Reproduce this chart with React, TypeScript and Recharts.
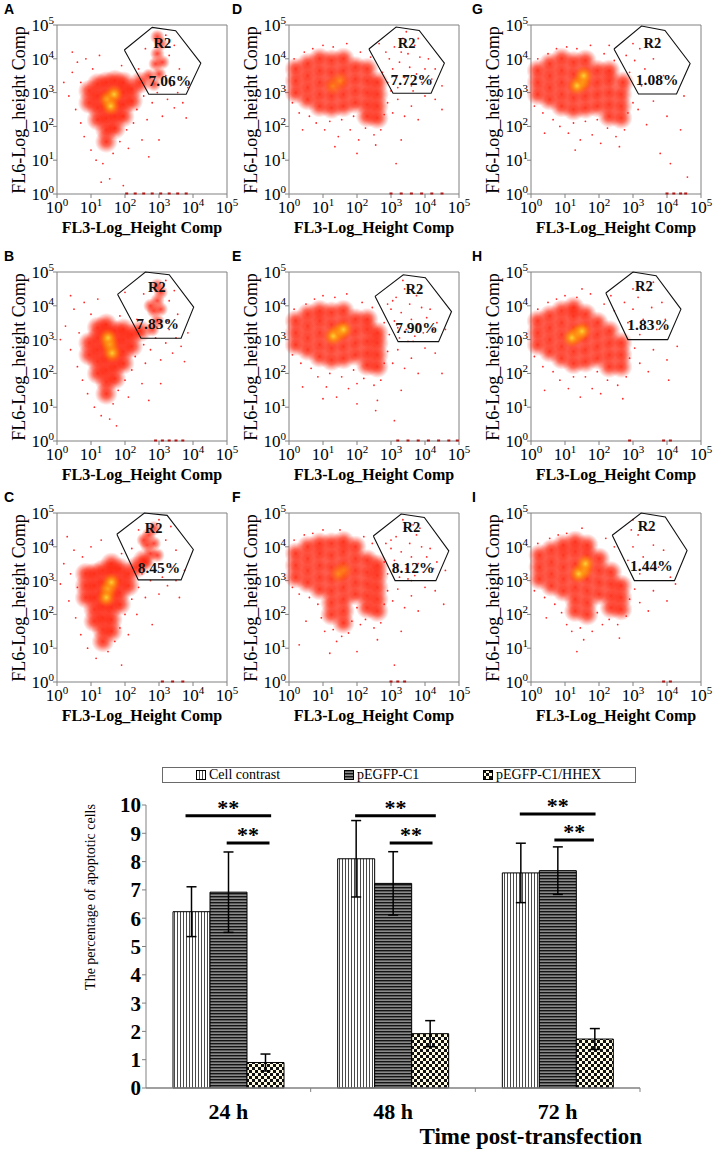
import React from 'react';
import {
  ScatterChart,
  Scatter,
  XAxis,
  YAxis,
  ReferenceLine,
  ReferenceDot,
  ComposedChart,
  Bar,
  ErrorBar,
} from 'recharts';

type Pt = [number, number];

const serif = '"Liberation Serif", "Times New Roman", serif';

// ---------- flow cytometry panels (values in log decades, 10^0 .. 10^5) ----------
const decades = [0, 1, 2, 3, 4, 5];

const aBody: Pt[] = [[0.95, 2.7], [0.95, 3.05], [1.2, 2.2], [1.2, 2.55], [1.2, 2.9], [1.2, 3.25], [1.45, 1.55], [1.45, 1.9], [1.45, 2.25], [1.45, 2.6], [1.45, 2.95], [1.45, 3.3], [1.7, 1.95], [1.7, 2.3], [1.7, 2.65], [1.7, 3.0], [1.7, 3.35], [1.95, 2.3], [1.95, 2.65], [1.95, 3.0], [1.95, 3.3], [2.2, 2.75], [2.2, 3.1], [2.45, 3.3]];
const aCore: Pt[] = [[1.5, 2.8], [1.68, 2.95], [1.58, 2.6]];
const aGate: Pt[] = [[2.85, 3.25], [3.0, 3.55], [2.9, 3.85], [3.1, 3.9], [2.95, 4.15], [3.05, 4.45], [2.95, 4.65], [2.7, 3.5]];
const aSparse: Pt[] = [[0.2, 3.3], [0.35, 2.9], [0.45, 3.6], [0.55, 2.5], [0.6, 3.9], [0.7, 2.1], [0.7, 3.3], [0.8, 1.7], [0.85, 4.0], [1.0, 1.3], [1.05, 3.7], [1.15, 1.0], [1.25, 4.1], [1.35, 0.9], [1.55, 0.45], [1.65, 1.2], [1.85, 1.55], [1.9, 3.8], [2.05, 1.9], [2.1, 1.35], [2.25, 2.1], [2.35, 2.5], [2.4, 3.7], [2.5, 1.6], [2.55, 2.9], [2.65, 2.2], [2.8, 2.7], [2.95, 3.0], [3.1, 2.3], [3.25, 2.8], [3.35, 3.2], [3.45, 2.55], [3.55, 3.0], [3.7, 2.7], [3.8, 2.25], [3.85, 3.15], [2.6, 4.3], [3.3, 4.1], [3.45, 4.4], [3.6, 3.7], [0.45, 4.2], [1.95, 0.25], [2.7, 1.1], [3.0, 1.6], [1.3, 0.35], [3.2, 3.5], [3.2, 4.7]];
const aAxis: Pt[] = [[2.05, 0], [2.3, 0], [2.55, 0], [2.8, 0], [3.05, 0], [3.3, 0], [3.55, 0], [3.8, 0]];
const aGatePoly: Pt[] = [[1.98, 4.26], [2.8, 4.93], [3.49, 4.83], [4.23, 3.87], [3.8, 2.95], [2.7, 2.95], [1.98, 4.26]];

const bBody: Pt[] = [[0.95, 2.55], [0.95, 2.9], [1.2, 2.0], [1.2, 2.35], [1.2, 2.7], [1.2, 3.05], [1.2, 3.35], [1.45, 1.4], [1.45, 1.75], [1.45, 2.1], [1.45, 2.45], [1.45, 2.8], [1.45, 3.15], [1.45, 3.45], [1.7, 1.85], [1.7, 2.2], [1.7, 2.55], [1.7, 2.9], [1.7, 3.25], [1.95, 2.3], [1.95, 2.65], [1.95, 3.0], [1.95, 3.3], [2.2, 2.8], [2.2, 3.15], [2.45, 3.25]];
const bCore: Pt[] = [[1.55, 2.85], [1.62, 2.6], [1.5, 3.05]];
const bGate: Pt[] = [[2.8, 3.3], [2.95, 3.55], [2.85, 3.85], [3.05, 3.9], [2.95, 4.15], [3.05, 4.4], [2.95, 4.6], [2.75, 4.0]];
const bSparse: Pt[] = [[0.1, 3.0], [0.25, 3.4], [0.4, 2.7], [0.5, 3.9], [0.6, 2.2], [0.65, 3.2], [0.75, 1.8], [0.8, 4.1], [0.9, 1.4], [1.0, 3.75], [1.1, 1.0], [1.2, 4.2], [1.3, 0.75], [1.55, 0.65], [1.65, 1.1], [1.8, 1.5], [1.85, 3.7], [2.0, 1.8], [2.1, 1.3], [2.2, 2.1], [2.3, 2.5], [2.35, 3.6], [2.5, 1.7], [2.55, 2.85], [2.6, 2.3], [2.75, 2.7], [2.9, 3.05], [3.05, 2.4], [3.2, 2.9], [3.3, 3.3], [3.4, 2.6], [3.5, 3.05], [3.65, 2.8], [3.75, 2.35], [3.85, 3.2], [2.55, 4.35], [3.3, 4.15], [3.45, 4.45], [3.55, 3.75], [0.4, 4.3], [1.75, 0.45], [2.7, 1.2], [3.05, 1.7], [3.25, 3.55], [3.2, 4.75], [2.0, 4.4]];
const bAxis: Pt[] = [[2.9, 0], [3.1, 0], [3.3, 0], [3.5, 0], [3.7, 0]];
const bGatePoly: Pt[] = [[1.78, 4.34], [2.6, 5.0], [3.3, 4.92], [4.02, 3.96], [3.65, 3.04], [2.47, 3.04], [1.78, 4.34]];

const cBody: Pt[] = [[0.85, 2.5], [0.85, 2.85], [0.85, 3.2], [1.1, 1.8], [1.1, 2.15], [1.1, 2.5], [1.1, 2.85], [1.1, 3.2], [1.35, 1.2], [1.35, 1.55], [1.35, 1.9], [1.35, 2.25], [1.35, 2.6], [1.35, 2.95], [1.35, 3.3], [1.6, 1.5], [1.6, 1.85], [1.6, 2.2], [1.6, 2.55], [1.6, 2.9], [1.6, 3.25], [1.6, 3.5], [1.85, 2.3], [1.85, 2.65], [1.85, 3.0], [1.85, 3.35], [2.1, 2.85], [2.1, 3.2], [2.35, 3.4], [2.55, 3.6]];
const cCore: Pt[] = [[1.5, 2.75], [1.6, 2.95], [1.45, 2.5]];
const cGate: Pt[] = [[2.6, 3.55], [2.75, 3.8], [2.65, 4.05], [2.85, 4.1], [2.7, 4.35], [2.85, 4.55], [2.55, 4.2], [2.95, 3.75]];
const cSparse: Pt[] = [[0.1, 2.9], [0.2, 3.5], [0.35, 2.4], [0.4, 3.2], [0.5, 3.9], [0.55, 1.9], [0.6, 2.8], [0.7, 1.4], [0.75, 3.7], [0.9, 1.0], [1.0, 4.0], [1.15, 0.7], [1.3, 4.2], [1.5, 0.9], [1.7, 1.2], [1.85, 1.6], [1.9, 3.8], [2.0, 2.0], [2.1, 1.4], [2.2, 2.45], [2.35, 2.0], [2.4, 2.8], [2.5, 3.2], [2.6, 2.5], [2.75, 3.0], [2.9, 3.3], [3.0, 2.6], [3.1, 3.1], [3.25, 2.85], [3.35, 3.4], [3.5, 3.0], [3.6, 2.5], [3.75, 3.3], [3.2, 4.2], [3.35, 4.6], [3.5, 3.9], [2.4, 4.5], [0.3, 4.3], [1.9, 0.5], [2.8, 1.7], [3.0, 4.8], [2.2, 3.95]];
const cAxis: Pt[] = [[3.1, 0], [3.4, 0], [3.7, 0]];
const cGatePoly: Pt[] = [[1.76, 4.37], [2.57, 5.0], [3.24, 4.93], [4.01, 3.92], [3.65, 3.02], [2.39, 3.02], [1.76, 4.37]];

const dBody: Pt[] = [[0.2, 3.0], [0.2, 3.35], [0.2, 3.7], [0.55, 2.8], [0.55, 3.15], [0.55, 3.5], [0.55, 3.85], [0.9, 2.6], [0.9, 2.95], [0.9, 3.3], [0.9, 3.65], [0.9, 4.0], [1.25, 2.55], [1.25, 2.9], [1.25, 3.25], [1.25, 3.6], [1.25, 3.95], [1.6, 2.6], [1.6, 2.95], [1.6, 3.3], [1.6, 3.65], [1.6, 4.0], [1.95, 2.7], [1.95, 3.05], [1.95, 3.4], [1.95, 3.75], [2.3, 2.3], [2.3, 2.65], [2.3, 3.0], [2.3, 3.35], [2.3, 3.7], [2.6, 2.25], [2.6, 2.6], [2.6, 2.95], [2.6, 3.3]];
const dCore: Pt[] = [[1.3, 3.2], [1.5, 3.35]];
const dGate: Pt[] = [[2.75, 3.6], [2.9, 3.3], [2.95, 4.0], [3.05, 3.7], [3.1, 4.35], [3.2, 3.15], [3.25, 3.9], [3.35, 4.6], [3.4, 3.45], [3.5, 4.15], [3.55, 3.75], [3.6, 3.2], [3.7, 4.4], [3.75, 3.55], [3.85, 4.05], [3.9, 3.3], [4.0, 3.7], [4.1, 4.0], [4.2, 3.4], [3.0, 3.05], [3.3, 4.2], [3.45, 4.8], [3.65, 3.05], [2.85, 4.2], [3.15, 3.45], [3.8, 4.6], [4.3, 3.7]];
const dSparse: Pt[] = [[0.1, 2.7], [0.15, 4.0], [0.3, 2.4], [0.45, 4.2], [0.6, 2.3], [0.7, 4.3], [0.8, 2.1], [1.0, 4.4], [1.05, 1.9], [1.2, 2.15], [1.3, 4.35], [1.45, 1.7], [1.55, 2.2], [1.7, 4.45], [1.8, 1.9], [1.9, 2.3], [2.05, 1.6], [2.1, 4.2], [2.25, 1.95], [2.4, 4.05], [2.5, 1.75], [2.7, 1.9], [2.8, 2.35], [2.9, 2.7], [3.05, 2.4], [3.2, 2.8], [3.4, 2.3], [3.6, 2.6], [3.8, 2.2], [4.0, 2.9], [4.3, 2.8], [4.5, 2.5], [1.35, 1.4], [2.55, 1.45], [3.3, 1.6], [0.4, 1.9], [2.0, 1.2], [3.15, 0.9], [2.65, 4.45], [4.5, 3.2]];
const dAxis: Pt[] = [[3.0, 0], [3.3, 0], [3.6, 0], [3.9, 0], [4.2, 0], [4.5, 0]];
const dGatePoly: Pt[] = [[2.35, 4.29], [3.15, 4.94], [3.83, 4.84], [4.57, 3.87], [4.18, 2.98], [3.06, 2.98], [2.35, 4.29]];

const eBody: Pt[] = [[0.2, 2.85], [0.2, 3.2], [0.2, 3.55], [0.55, 2.7], [0.55, 3.05], [0.55, 3.4], [0.55, 3.75], [0.9, 2.5], [0.9, 2.85], [0.9, 3.2], [0.9, 3.55], [0.9, 3.85], [1.25, 2.4], [1.25, 2.75], [1.25, 3.1], [1.25, 3.45], [1.25, 3.8], [1.6, 2.45], [1.6, 2.8], [1.6, 3.15], [1.6, 3.5], [1.6, 3.85], [1.95, 2.55], [1.95, 2.9], [1.95, 3.25], [1.95, 3.6], [2.3, 2.25], [2.3, 2.6], [2.3, 2.95], [2.3, 3.3], [2.3, 3.6], [2.6, 2.2], [2.6, 2.55], [2.6, 2.9], [2.6, 3.2]];
const eCore: Pt[] = [[1.45, 3.2], [1.3, 3.1], [1.6, 3.3]];
const eGate: Pt[] = [[2.8, 3.5], [2.95, 3.15], [3.0, 3.9], [3.1, 3.55], [3.15, 4.25], [3.25, 3.05], [3.3, 3.8], [3.4, 4.5], [3.45, 3.3], [3.55, 4.05], [3.6, 3.6], [3.7, 3.1], [3.75, 4.3], [3.8, 3.45], [3.9, 3.95], [3.95, 3.2], [4.05, 3.65], [4.15, 3.9], [4.25, 3.3], [3.05, 4.15], [3.35, 4.75], [3.65, 2.95], [2.9, 4.05], [3.2, 3.35], [3.85, 4.5], [4.35, 3.5], [3.5, 2.95]];
const eSparse: Pt[] = [[0.1, 2.55], [0.15, 3.9], [0.35, 2.3], [0.5, 4.05], [0.65, 2.15], [0.75, 4.2], [0.85, 1.9], [1.0, 4.3], [1.1, 1.6], [1.2, 2.0], [1.35, 4.25], [1.4, 1.3], [1.55, 1.9], [1.7, 4.35], [1.75, 1.55], [1.9, 2.1], [2.0, 1.7], [2.15, 4.1], [2.2, 1.85], [2.45, 3.95], [2.5, 1.65], [2.7, 1.8], [2.8, 2.3], [2.9, 2.65], [3.05, 2.3], [3.2, 2.7], [3.4, 2.15], [3.6, 2.45], [3.8, 2.0], [4.0, 2.75], [4.3, 2.6], [4.5, 2.0], [1.0, 1.25], [2.6, 1.2], [3.3, 1.5], [0.4, 1.6], [2.0, 1.1], [3.1, 0.6], [2.55, 0.9], [4.6, 3.3]];
const eAxis: Pt[] = [[3.2, 0], [3.5, 0], [3.8, 0], [4.1, 0], [4.4, 0], [4.7, 0], [4.95, 0]];
const eGatePoly: Pt[] = [[2.53, 4.28], [3.36, 4.92], [4.01, 4.83], [4.78, 3.83], [4.4, 2.94], [3.21, 2.94], [2.53, 4.28]];

const fBody: Pt[] = [[0.2, 3.1], [0.2, 3.45], [0.2, 3.8], [0.55, 2.95], [0.55, 3.3], [0.55, 3.65], [0.55, 4.0], [0.9, 2.75], [0.9, 3.1], [0.9, 3.45], [0.9, 3.8], [0.9, 4.1], [1.25, 2.0], [1.25, 2.35], [1.25, 2.7], [1.25, 3.05], [1.25, 3.4], [1.25, 3.75], [1.25, 4.1], [1.6, 1.75], [1.6, 2.1], [1.6, 2.45], [1.6, 2.8], [1.6, 3.15], [1.6, 3.5], [1.6, 3.85], [1.6, 4.15], [1.95, 2.6], [1.95, 2.95], [1.95, 3.3], [1.95, 3.65], [1.95, 4.0], [2.3, 2.2], [2.3, 2.55], [2.3, 2.9], [2.3, 3.25], [2.3, 3.6], [2.6, 2.1], [2.6, 2.45], [2.6, 2.8], [2.6, 3.15], [2.6, 3.45]];
const fCore: Pt[] = [[1.6, 3.3], [1.45, 3.2]];
const fGate: Pt[] = [[2.8, 3.55], [2.9, 3.2], [3.0, 3.95], [3.1, 3.6], [3.15, 4.3], [3.25, 3.1], [3.3, 3.85], [3.4, 4.55], [3.45, 3.35], [3.55, 4.1], [3.6, 3.7], [3.7, 3.15], [3.75, 4.35], [3.8, 3.5], [3.9, 4.0], [3.95, 3.25], [4.05, 3.7], [4.15, 3.95], [4.25, 3.35], [3.0, 4.2], [3.35, 4.8], [3.6, 3.0], [2.85, 4.1], [3.2, 3.4], [3.85, 4.55], [4.35, 3.55], [3.5, 3.05], [3.65, 4.65]];
const fSparse: Pt[] = [[0.1, 2.8], [0.15, 4.2], [0.3, 2.6], [0.45, 4.35], [0.6, 2.5], [0.7, 4.4], [0.85, 2.3], [1.0, 4.5], [0.95, 1.9], [1.05, 1.5], [1.3, 1.55], [1.4, 1.2], [1.55, 1.35], [1.75, 1.45], [1.85, 1.8], [2.0, 2.2], [2.1, 1.7], [2.2, 4.3], [2.25, 1.85], [2.45, 4.1], [2.5, 1.6], [2.7, 1.75], [2.8, 2.3], [2.9, 2.7], [3.05, 2.4], [3.2, 2.75], [3.4, 2.2], [3.6, 2.55], [3.8, 2.1], [4.0, 2.8], [4.3, 2.7], [4.55, 2.3], [1.5, 4.5], [2.6, 1.25], [3.3, 1.5], [0.5, 1.8], [2.0, 0.9], [3.1, 0.5], [1.2, 0.85], [4.6, 3.3], [0.3, 1.1]];
const fAxis: Pt[] = [[3.0, 0], [3.2, 0], [3.4, 0]];
const fGatePoly: Pt[] = [[2.48, 4.32], [3.3, 4.97], [3.98, 4.87], [4.7, 3.88], [4.32, 3.0], [3.12, 3.0], [2.48, 4.32]];

const gBody: Pt[] = [[0.2, 2.95], [0.2, 3.3], [0.2, 3.65], [0.55, 2.8], [0.55, 3.15], [0.55, 3.5], [0.55, 3.85], [0.9, 2.6], [0.9, 2.95], [0.9, 3.3], [0.9, 3.65], [0.9, 4.0], [1.25, 2.5], [1.25, 2.85], [1.25, 3.2], [1.25, 3.55], [1.25, 3.9], [1.6, 2.55], [1.6, 2.9], [1.6, 3.25], [1.6, 3.6], [1.6, 3.95], [1.95, 2.6], [1.95, 2.95], [1.95, 3.3], [1.95, 3.65], [2.3, 2.3], [2.3, 2.65], [2.3, 3.0], [2.3, 3.35], [2.3, 3.65], [2.65, 2.25], [2.65, 2.6], [2.65, 2.95], [2.7, 3.3]];
const gCore: Pt[] = [[1.5, 3.3], [1.35, 3.2], [1.55, 3.5]];
const gGate: Pt[] = [[2.9, 3.6], [3.05, 3.95], [3.2, 4.3], [3.35, 3.7], [3.5, 4.5], [3.6, 4.0], [3.75, 4.6], [3.9, 3.5], [3.25, 3.2], [3.0, 4.45], [3.7, 3.3], [2.8, 4.1]];
const gSparse: Pt[] = [[0.1, 2.6], [0.2, 4.0], [0.35, 2.4], [0.5, 4.15], [0.65, 2.2], [0.75, 4.3], [0.85, 2.0], [1.05, 4.35], [1.1, 1.8], [1.25, 2.1], [1.35, 4.3], [1.45, 1.6], [1.6, 2.15], [1.75, 4.4], [1.8, 1.75], [1.95, 2.2], [2.05, 1.5], [2.15, 4.15], [2.25, 1.95], [2.45, 3.95], [2.5, 1.7], [2.75, 1.9], [2.85, 2.4], [3.0, 2.7], [3.15, 2.5], [3.4, 2.05], [3.6, 2.75], [4.0, 2.3], [4.4, 1.9], [4.5, 2.9], [1.3, 1.3], [2.6, 1.4], [0.4, 1.8], [3.8, 1.2], [4.1, 0.9], [2.3, 4.4], [4.6, 0.5]];
const gAxis: Pt[] = [[4.0, 0], [4.2, 0], [4.4, 0], [4.55, 0]];
const gGatePoly: Pt[] = [[2.44, 4.29], [3.25, 4.97], [3.94, 4.84], [4.68, 3.86], [4.28, 2.96], [3.16, 2.96], [2.44, 4.29]];

const hBody: Pt[] = [[0.2, 2.85], [0.2, 3.2], [0.2, 3.55], [0.55, 2.65], [0.55, 3.0], [0.55, 3.35], [0.55, 3.7], [0.9, 2.45], [0.9, 2.8], [0.9, 3.15], [0.9, 3.5], [0.9, 3.85], [1.25, 2.3], [1.25, 2.65], [1.25, 3.0], [1.25, 3.35], [1.25, 3.7], [1.25, 3.95], [1.6, 2.35], [1.6, 2.7], [1.6, 3.05], [1.6, 3.4], [1.6, 3.75], [1.95, 2.45], [1.95, 2.8], [1.95, 3.15], [1.95, 3.5], [2.3, 2.2], [2.3, 2.55], [2.3, 2.9], [2.3, 3.25], [2.65, 2.2], [2.65, 2.55], [2.65, 2.9]];
const hCore: Pt[] = [[1.35, 3.15], [1.2, 3.05], [1.5, 3.25]];
const hGate: Pt[] = [[2.85, 3.5], [3.0, 3.9], [3.15, 4.25], [3.3, 3.6], [3.45, 4.45], [3.55, 3.95], [3.7, 3.3], [3.85, 4.1], [3.2, 3.15], [3.0, 4.5], [2.75, 4.1], [3.6, 4.7], [3.95, 3.6]];
const hSparse: Pt[] = [[0.1, 2.5], [0.2, 3.9], [0.35, 2.2], [0.5, 4.1], [0.65, 2.05], [0.75, 4.2], [0.85, 1.8], [1.0, 4.3], [1.1, 1.55], [1.25, 1.9], [1.35, 4.25], [1.45, 1.3], [1.6, 1.9], [1.75, 4.35], [1.8, 1.55], [1.95, 2.05], [2.05, 1.4], [2.15, 4.05], [2.25, 1.8], [2.45, 3.85], [2.55, 1.65], [2.8, 1.9], [2.9, 2.45], [3.05, 2.75], [3.2, 2.3], [3.45, 2.05], [3.6, 2.7], [4.0, 2.4], [4.3, 2.8], [4.05, 1.8], [0.4, 1.5], [2.7, 1.25], [1.5, 4.5], [2.35, 4.3]];
const hAxis: Pt[] = [[2.9, 0], [3.9, 0], [4.1, 0]];
const hGatePoly: Pt[] = [[2.2, 4.38], [3.0, 5.0], [3.68, 4.89], [4.41, 3.9], [4.02, 3.0], [2.85, 3.0], [2.2, 4.38]];

const iBody: Pt[] = [[0.25, 3.05], [0.25, 3.4], [0.25, 3.75], [0.6, 2.85], [0.6, 3.2], [0.6, 3.55], [0.6, 3.9], [0.95, 2.7], [0.95, 3.05], [0.95, 3.4], [0.95, 3.75], [0.95, 4.05], [1.3, 2.1], [1.3, 2.45], [1.3, 2.8], [1.3, 3.15], [1.3, 3.5], [1.3, 3.85], [1.3, 4.15], [1.65, 2.0], [1.65, 2.35], [1.65, 2.7], [1.65, 3.05], [1.65, 3.4], [1.65, 3.75], [1.65, 4.05], [2.0, 2.6], [2.0, 2.95], [2.0, 3.3], [2.0, 3.65], [2.35, 2.2], [2.35, 2.55], [2.35, 2.9], [2.35, 3.25], [2.65, 2.15], [2.65, 2.5], [2.65, 2.85]];
const iCore: Pt[] = [[1.55, 3.3], [1.4, 3.2], [1.6, 3.5]];
const iGate: Pt[] = [[2.85, 3.6], [3.0, 4.0], [3.15, 4.35], [3.3, 3.7], [3.45, 4.5], [3.6, 4.05], [3.75, 3.4], [3.2, 3.2], [2.95, 4.5], [3.9, 3.9]];
const iSparse: Pt[] = [[0.1, 2.7], [0.2, 4.1], [0.4, 2.5], [0.55, 4.25], [0.7, 2.3], [0.8, 4.35], [0.9, 2.05], [1.05, 4.4], [1.05, 1.7], [1.2, 1.5], [1.45, 1.6], [1.55, 1.25], [1.8, 1.5], [1.95, 2.05], [2.1, 1.7], [2.2, 4.25], [2.3, 1.85], [2.45, 4.0], [2.55, 1.7], [2.8, 1.95], [2.9, 2.45], [3.05, 2.75], [3.2, 2.35], [3.45, 2.1], [3.6, 2.7], [4.0, 2.4], [4.25, 2.9], [0.45, 1.9], [2.6, 1.3], [1.5, 4.55], [1.35, 0.9], [3.0, 4.8], [4.1, 3.1]];
const iAxis: Pt[] = [[3.9, 0], [4.1, 0]];
const iGatePoly: Pt[] = [[2.39, 4.34], [3.24, 5.0], [3.95, 4.88], [4.59, 3.89], [4.22, 3.0], [3.04, 3.0], [2.39, 4.34]];

// gate label anchors: [R2 position, percentage position]
const gateLabelPos: Record<string, Pt[]> = {
  A: [[3.1, 4.47], [3.32, 3.37]],
  B: [[2.94, 4.55], [2.96, 3.47]],
  C: [[2.84, 4.56], [3.0, 3.4]],
  D: [[3.46, 4.48], [3.61, 3.38]],
  E: [[3.69, 4.49], [3.75, 3.37]],
  F: [[3.6, 4.58], [3.65, 3.4]],
  G: [[3.57, 4.48], [3.71, 3.38]],
  H: [[3.32, 4.6], [3.46, 3.44]],
  I: [[3.4, 4.63], [3.54, 3.45]],
};
const gatePercent: Record<string, string> = {
  A: '7.06%', B: '7.83%', C: '8.45%',
  D: '7.72%', E: '7.90%', F: '8.12%',
  G: '1.08%', H: '1.83%', I: '1.44%',
};

// ---------- bar chart ----------
const timePoints = ['24 h', '48 h', '72 h'];
const seriesNames = ['Cell contrast', 'pEGFP-C1', 'pEGFP-C1/HHEX'];
const cellContrast = [6.23, 8.1, 7.6];
const cellContrastErr = [0.88, 1.35, 1.05];
const pegfp = [6.92, 7.23, 7.68];
const pegfpErr = [1.42, 1.12, 0.84];
const hhex = [0.9, 1.92, 1.73];
const hhexErr = [0.3, 0.46, 0.37];

// significance brackets on a 0..3 axis (one unit per time point)
const sigLines = [
  { x1: 0.24, x2: 0.76, y: 9.62 },
  { x1: 0.49, x2: 0.75, y: 8.66 },
  { x1: 1.27, x2: 1.76, y: 9.62 },
  { x1: 1.48, x2: 1.74, y: 8.66 },
  { x1: 2.27, x2: 2.73, y: 9.68 },
  { x1: 2.48, x2: 2.72, y: 8.76 },
];
const groupBounds = [1, 2, 3];

const barData = timePoints.map((t, i) => ({
  pos: i + 0.5,
  time: t,
  cc: cellContrast[i],
  ccErr: cellContrastErr[i],
  pe: pegfp[i],
  peErr: pegfpErr[i],
  hx: hhex[i],
  hxErr: hhexErr[i],
}));

const pts = (a: Pt[]) => a.map(([x, y]) => ({ x, y }));

const glow = (id: string, r: number) => (p: any) => (
  <circle cx={p.cx} cy={p.cy} r={r} fill={`url(#${id})`} />
);
const Dot = (p: any) => <circle cx={p.cx} cy={p.cy} r={0.9} fill="#ff2a2a" />;
const AxisDot = (p: any) => <rect x={p.cx - 1.5} y={p.cy - 1.5} width={3} height={2} fill="#b01818" />;
const Nothing = () => <g />;
const GateText = (p: any) => (
  <text
    x={p.cx}
    y={p.cy}
    textAnchor="middle"
    dominantBaseline="central"
    fontFamily={serif}
    fontWeight="bold"
    fontSize={p.payload.big ? 15.5 : 14.5}
    fill="#111"
  >
    {p.payload.text}
  </text>
);

const XTick = (p: any) => (
  <text x={p.x} y={p.y + 13} textAnchor="middle" fontFamily={serif} fontSize={17} fill="#000">
    10<tspan dy={-7} fontSize={11}>{p.payload.value}</tspan>
  </text>
);
const YTick = (p: any) => (
  <text x={p.x + 3} y={p.y + 6} textAnchor="end" fontFamily={serif} fontSize={17} fill="#000">
    10<tspan dy={-7} fontSize={11}>{p.payload.value}</tspan>
  </text>
);

const panels = [
  { letter: 'A', col: 0, row: 0, body: aBody, core: aCore, gate: aGate, sparse: aSparse, axis: aAxis, poly: aGatePoly, hot: true, streak: true },
  { letter: 'B', col: 0, row: 1, body: bBody, core: bCore, gate: bGate, sparse: bSparse, axis: bAxis, poly: bGatePoly, hot: true, streak: true },
  { letter: 'C', col: 0, row: 2, body: cBody, core: cCore, gate: cGate, sparse: cSparse, axis: cAxis, poly: cGatePoly, hot: true, streak: true },
  { letter: 'D', col: 1, row: 0, body: dBody, core: dCore, gate: dGate, sparse: dSparse, axis: dAxis, poly: dGatePoly, hot: false, streak: false },
  { letter: 'E', col: 1, row: 1, body: eBody, core: eCore, gate: eGate, sparse: eSparse, axis: eAxis, poly: eGatePoly, hot: true, streak: false },
  { letter: 'F', col: 1, row: 2, body: fBody, core: fCore, gate: fGate, sparse: fSparse, axis: fAxis, poly: fGatePoly, hot: false, streak: false },
  { letter: 'G', col: 2, row: 0, body: gBody, core: gCore, gate: gGate, sparse: gSparse, axis: gAxis, poly: gGatePoly, hot: true, streak: false },
  { letter: 'H', col: 2, row: 1, body: hBody, core: hCore, gate: hGate, sparse: hSparse, axis: hAxis, poly: hGatePoly, hot: true, streak: false },
  { letter: 'I', col: 2, row: 2, body: iBody, core: iCore, gate: iGate, sparse: iSparse, axis: iAxis, poly: iGatePoly, hot: true, streak: false },
];

const colLeft = [57, 289, 531];
const letterLeft = [4, 232, 472];
const rowTop = [25, 272, 513];
const PW = 170;
const PH = 169;
const RM = 12;

function FlowPanel({ p }: { p: any }) {
  const left = colLeft[p.col];
  const top = rowTop[p.row];
  const [r2, pc] = gateLabelPos[p.letter];
  const labels = [
    { x: r2[0], y: r2[1], text: 'R2', big: false },
    { x: pc[0], y: pc[1], text: gatePercent[p.letter], big: true },
  ];
  return (
    <>
      <div
        style={{
          position: 'absolute',
          left: letterLeft[p.col],
          top: top - 24,
          font: 'bold 14px "Liberation Sans", Arial, sans-serif',
        }}
      >
        {p.letter}
      </div>
      <div style={{ position: 'absolute', left: left - 55, top: top - 25 }}>
        <ScatterChart width={55 + PW + RM} height={25 + PH + 45} margin={{ top: 25, right: RM, bottom: 0, left: 0 }}>
          <XAxis
            type="number"
            dataKey="x"
            domain={[0, 5]}
            ticks={decades}
            interval={0}
            tick={XTick}
            tickSize={4}
            height={45}
            stroke="#808080"
          />
          <YAxis
            type="number"
            dataKey="y"
            domain={[0, 5]}
            ticks={decades}
            interval={0}
            tick={YTick}
            tickSize={4}
            width={55}
            stroke="#808080"
          />
          <ReferenceLine y={5} stroke="#808080" />
          <ReferenceLine x={5} stroke="#808080" />
          <Scatter data={pts(p.sparse)} shape={Dot} isAnimationActive={false} />
          <Scatter data={pts(p.body)} shape={glow('glowRed', 11.5)} isAnimationActive={false} />
          <Scatter
            data={pts(p.core)}
            shape={glow(p.hot ? 'coreHot' : 'coreWarm', 10)}
            isAnimationActive={false}
          />
          <Scatter
            data={pts(p.gate)}
            shape={p.streak ? glow('glowSoft', 7.5) : Dot}
            isAnimationActive={false}
          />
          <Scatter data={pts(p.axis)} shape={AxisDot} isAnimationActive={false} />
          <Scatter
            data={pts(p.poly)}
            line={{ stroke: '#111', strokeWidth: 1.1 }}
            lineType="joint"
            shape={Nothing}
            isAnimationActive={false}
          />
          <Scatter data={labels} shape={GateText} isAnimationActive={false} />
        </ScatterChart>
      </div>
      <div
        style={{
          position: 'absolute',
          left: left - 38,
          top: top + PH / 2,
          transform: 'translate(-50%, -50%) rotate(-90deg)',
          whiteSpace: 'nowrap',
          font: `18px ${serif}`,
        }}
      >
        FL6-Log_height Comp
      </div>
      <div
        style={{
          position: 'absolute',
          left: left + PW / 2,
          top: top + PH + 34,
          transform: 'translate(-50%, -50%)',
          whiteSpace: 'nowrap',
          font: `bold 16px ${serif}`,
        }}
      >
        FL3-Log_Height Comp
      </div>
    </>
  );
}

const CatTick = (p: any) => (
  <text x={p.x} y={p.y + 31} textAnchor="middle" fontFamily={serif} fontWeight="bold" fontSize={22} fill="#000">
    {timePoints[Math.floor(p.payload.value)]}
  </text>
);

const Stars = (p: any) => (
  <text x={p.cx} y={p.cy - 1} textAnchor="middle" fontFamily={serif} fontWeight="bold" fontSize={22} fill="#000">
    **
  </text>
);

const patternIds = ['vstripe', 'hstripe', 'checker'];

function BarFigure() {
  return (
    <>
      <div
        style={{
          position: 'absolute',
          left: 162,
          top: 767,
          width: 472,
          height: 14,
          border: '1px solid #6a6a6a',
          font: `14px ${serif}`,
        }}
      >
        {seriesNames.map((name, i) => (
          <div
            key={name}
            style={{
              position: 'absolute',
              left: [33, 181, 320][i],
              top: -1,
              height: 16,
              display: 'flex',
              alignItems: 'center',
              whiteSpace: 'nowrap',
            }}
          >
            <svg width={10} height={10} style={{ marginRight: 3 }}>
              <rect x={0.5} y={0.5} width={9} height={9} fill={`url(#${patternIds[i]})`} stroke="#000" />
            </svg>
            {name}
          </div>
        ))}
      </div>
      <div
        style={{
          position: 'absolute',
          left: 91,
          top: 897,
          transform: 'translate(-50%, -50%) rotate(-90deg)',
          whiteSpace: 'nowrap',
          font: `14px ${serif}`,
        }}
      >
        The percentage of apoptotic cells
      </div>
      <div style={{ position: 'absolute', left: 0, top: 755 }}>
        <ComposedChart
          width={714}
          height={400}
          data={barData}
          margin={{ top: 50, right: 74, left: 86, bottom: 27 }}
          barCategoryGap="16.7%"
          barGap={0}
        >
          <XAxis
            type="number"
            dataKey="pos"
            domain={[0, 3]}
            ticks={[0.5, 1.5, 2.5]}
            interval={0}
            tickLine={false}
            tickSize={0}
            tickMargin={0}
            tick={CatTick}
            height={40}
            stroke="#808080"
            strokeWidth={1.5}
          />
          <YAxis
            domain={[0, 10]}
            ticks={[0, 1, 2, 3, 4, 5, 6, 7, 8, 9, 10]}
            interval={0}
            tickSize={4}
            tickMargin={1}
            width={60}
            stroke="#808080"
            tick={{ fontFamily: serif, fontWeight: 'bold', fontSize: 21, fill: '#000' }}
          />
          {groupBounds.map((b) => (
            <ReferenceLine
              key={`b${b}`}
              segment={[{ x: b, y: 0 }, { x: b, y: -0.14 }]}
              ifOverflow="visible"
              stroke="#808080"
            />
          ))}
          <Bar dataKey="cc" barSize={37} fill="url(#vstripe)" stroke="#000" strokeWidth={1} isAnimationActive={false}>
            <ErrorBar dataKey="ccErr" width={5} stroke="#000" strokeWidth={1.5} direction="y" />
          </Bar>
          <Bar dataKey="pe" barSize={37} fill="url(#hstripe)" stroke="#000" strokeWidth={1} isAnimationActive={false}>
            <ErrorBar dataKey="peErr" width={5} stroke="#000" strokeWidth={1.5} direction="y" />
          </Bar>
          <Bar dataKey="hx" barSize={37} fill="url(#checker)" stroke="#000" strokeWidth={1} isAnimationActive={false}>
            <ErrorBar dataKey="hxErr" width={5} stroke="#000" strokeWidth={1.5} direction="y" />
          </Bar>
          {sigLines.map((l, i) => (
            <ReferenceLine
              key={`s${i}`}
              segment={[{ x: l.x1, y: l.y }, { x: l.x2, y: l.y }]}
              stroke="#000"
              strokeWidth={3}
              ifOverflow="visible"
            />
          ))}
          {sigLines.map((l, i) => (
            <ReferenceDot key={`t${i}`} x={(l.x1 + l.x2) / 2} y={l.y} r={0} shape={Stars} ifOverflow="visible" />
          ))}
        </ComposedChart>
      </div>
      <div
        style={{
          position: 'absolute',
          right: 714 - 642,
          top: 1124,
          whiteSpace: 'nowrap',
          font: `bold 23px ${serif}`,
        }}
      >
        Time post-transfection
      </div>
    </>
  );
}

export default function App() {
  return (
    <div style={{ position: 'relative', width: 714, height: 1155, background: '#fff', overflow: 'hidden' }}>
      <style>{'body{margin:0;}'}</style>
      <svg width={0} height={0} style={{ position: 'absolute' }}>
        <defs>
          <radialGradient id="glowRed">
            <stop offset="0%" stopColor="#ff1800" stopOpacity={0.88} />
            <stop offset="40%" stopColor="#ff2008" stopOpacity={0.68} />
            <stop offset="100%" stopColor="#ff3525" stopOpacity={0} />
          </radialGradient>
          <radialGradient id="glowSoft">
            <stop offset="0%" stopColor="#ff2010" stopOpacity={0.85} />
            <stop offset="50%" stopColor="#ff2a14" stopOpacity={0.5} />
            <stop offset="100%" stopColor="#ff3a20" stopOpacity={0} />
          </radialGradient>
          <radialGradient id="coreHot">
            <stop offset="0%" stopColor="#ffd836" stopOpacity={0.95} />
            <stop offset="40%" stopColor="#ff9a10" stopOpacity={0.75} />
            <stop offset="100%" stopColor="#ff5a00" stopOpacity={0} />
          </radialGradient>
          <radialGradient id="coreWarm">
            <stop offset="0%" stopColor="#ff9a18" stopOpacity={0.8} />
            <stop offset="50%" stopColor="#ff7010" stopOpacity={0.45} />
            <stop offset="100%" stopColor="#ff4a00" stopOpacity={0} />
          </radialGradient>
          <pattern id="vstripe" width={3} height={6} patternUnits="userSpaceOnUse">
            <rect width={3} height={6} fill="#fff" />
            <rect x={0} width={1} height={6} fill="#4a4a4a" />
          </pattern>
          <pattern id="hstripe" width={6} height={3} patternUnits="userSpaceOnUse">
            <rect width={6} height={3} fill="#8a8a8a" />
            <rect y={0} width={6} height={1.4} fill="#151515" />
          </pattern>
          <pattern id="checker" width={6} height={6} patternUnits="userSpaceOnUse">
            <rect width={6} height={6} fill="#fffbe3" />
            <rect x={0} y={0} width={3} height={3} fill="#111" />
            <rect x={3} y={3} width={3} height={3} fill="#111" />
          </pattern>
        </defs>
      </svg>
      {panels.map((p) => (
        <FlowPanel key={p.letter} p={p} />
      ))}
      <BarFigure />
    </div>
  );
}
